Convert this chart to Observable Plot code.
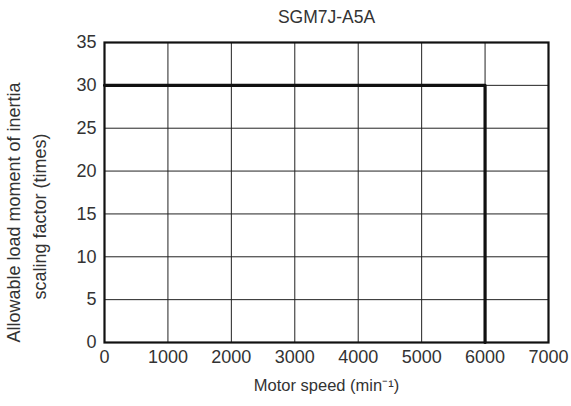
<!DOCTYPE html>
<html>
<head>
<meta charset="utf-8">
<script src="https://cdn.jsdelivr.net/npm/d3@7"></script>
<script src="https://cdn.jsdelivr.net/npm/@observablehq/plot@0.6"></script>
<style>
  html, body { margin: 0; padding: 0; background: #fff; }
  #chart svg { display: block; }
</style>
</head>
<body>
<div id="chart"></div>
<script>
// Data
const title = "SGM7J-A5A";
const xLabel = "Motor speed (min⁻¹)";
const yLabelLines = ["Allowable load moment of inertia", "scaling factor (times)"];
const xTicks = [0, 1000, 2000, 3000, 4000, 5000, 6000, 7000];
const yTicks = [0, 5, 10, 15, 20, 25, 30, 35];
const speed = [0, 6000, 6000];
const factor = [30, 30, 0];

const W = 571, H = 406;
const mL = 104, mR = 23, mT = 42, mB = 64;
const font = "Liberation Sans, Arial, sans-serif";
const txt = "#333";
const fs = 18;

const line = speed.map((s, i) => ({speed: s, factor: factor[i]}));

const chart = Plot.plot({
  width: W,
  height: H,
  marginLeft: mL,
  marginRight: mR,
  marginTop: mT,
  marginBottom: mB,
  style: {fontFamily: font, fontSize: fs + "px", color: txt, background: "#fff"},
  x: {domain: [0, 7000], label: null},
  y: {domain: [0, 35], label: null},
  marks: [
    Plot.gridX(xTicks, {stroke: "#222", strokeOpacity: 1, strokeWidth: 1}),
    Plot.gridY(yTicks, {stroke: "#222", strokeOpacity: 1, strokeWidth: 1}),
    Plot.frame({stroke: "#111", strokeWidth: 2.2}),
    Plot.line(line, {x: "speed", y: "factor", stroke: "#111", strokeWidth: 3.2, curve: "linear"}),
    Plot.axisX(xTicks, {tickSize: 0, tickPadding: 8, fontSize: fs, fill: txt, label: null, tickFormat: d => String(d)}),
    Plot.axisY(yTicks, {tickSize: 0, tickPadding: 8, fontSize: fs, fill: txt, label: null, tickFormat: d => String(d)}),
    // title
    Plot.text([title], {frameAnchor: "top", lineAnchor: "middle", dy: -25, fontSize: 17.5, fill: txt, text: d => d}),
    // x label
    Plot.text([xLabel], {frameAnchor: "bottom", lineAnchor: "middle", dy: 43, fontSize: 16.5, fill: txt, text: d => d}),
    // y label lines
    Plot.text([yLabelLines[0]], {frameAnchor: "left", textAnchor: "middle", lineAnchor: "middle", rotate: -90, dx: -90, dy: 20, fontSize: 18, fill: txt, text: d => d}),
    Plot.text([yLabelLines[1]], {frameAnchor: "left", textAnchor: "middle", lineAnchor: "middle", rotate: -90, dx: -64, dy: 24, fontSize: 18, fill: txt, text: d => d})
  ]
});
document.getElementById("chart").appendChild(chart);
</script>
</body>
</html>
